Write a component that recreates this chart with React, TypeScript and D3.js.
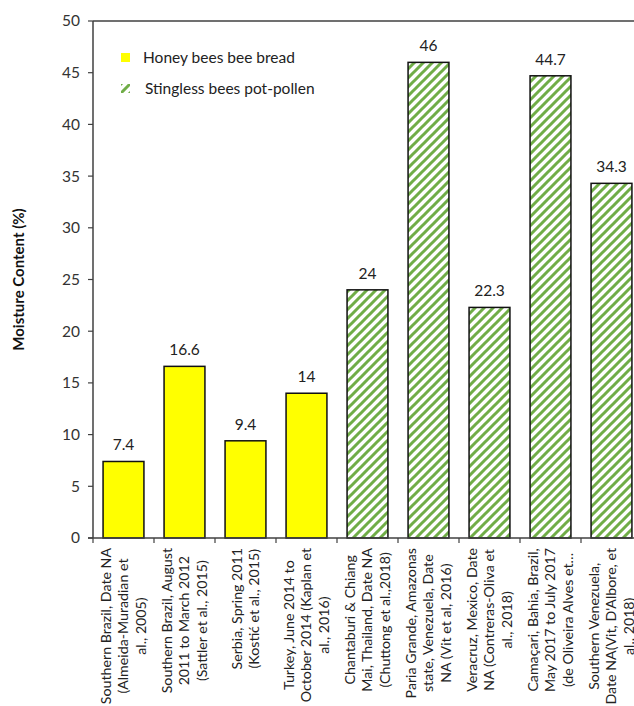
import React, { useLayoutEffect, useRef } from "react";
import * as d3 from "d3";

const categories: string[][] = [
  ["Southern Brazil, Date NA", "(Almeida-Muradian et", "al., 2005)"],
  ["Southern Brazil, August", "2011 to March 2012", "(Sattler et al., 2015)"],
  ["Serbia, Spring 2011", "(Kostić et al., 2015)"],
  ["Turkey, June 2014 to", "October 2014 (Kaplan et", "al., 2016)"],
  ["Chantaburi & Chiang", "Mai, Thailand, Date NA", "(Chuttong et al.,2018)"],
  ["Paria Grande, Amazonas", "state, Venezuela, Date", "NA (Vit et al, 2016)"],
  ["Veracruz, Mexico, Date", "NA (Contreras-Oliva et", "al., 2018)"],
  ["Camaçari, Bahia, Brazil,", "May 2017 to July 2017", "(de Oliveira Alves et…"],
  ["Southern Venezuela,", "Date NA(Vit, D'Albore, et", "al., 2018)"],
];
const values: number[] = [7.4, 16.6, 9.4, 14, 24, 46, 22.3, 44.7, 34.3];
const valueLabels: string[] = ["7.4", "16.6", "9.4", "14", "24", "46", "22.3", "44.7", "34.3"];
const groups: string[] = ["honey", "honey", "honey", "honey", "stingless", "stingless", "stingless", "stingless", "stingless"];
const legendLabels: string[] = ["Honey bees bee bread", "Stingless bees pot-pollen"];
const yTicks: number[] = [0, 5, 10, 15, 20, 25, 30, 35, 40, 45, 50];

const FONT = "Lato, 'Open Sans', sans-serif";
const LABEL_SIZE = 14.2;

export default function App() {
  const W = 634, H = 706;
  const x0 = 93, x1 = 642, yTop = 21, yBot = 538;
  const x = d3.scaleBand<number>().domain(values.map((_, i) => i)).range([x0, x1]).padding(0);
  const y = d3.scaleLinear().domain([0, 50]).range([yBot, yTop]);
  const bw = x.bandwidth() * 0.67;
  const green = "#70AD47";
  const axisColor = "#404040";
  const labelRefs = useRef<(SVGGElement | null)[]>([]);

  useLayoutEffect(() => {
    labelRefs.current.forEach((g, i) => {
      if (!g) return;
      const texts = Array.from(g.querySelectorAll("text")) as SVGTextElement[];
      const maxLen = d3.max(texts, (t) => t.getComputedTextLength()) || 0;
      const cx = (x(i) as number) + x.bandwidth() / 2;
      g.setAttribute("transform", `translate(${cx},${548 + maxLen / 2}) rotate(-90)`);
    });
  });

  return (
    <div style={{ position: "fixed", left: 0, top: 0, width: W, height: H, background: "#fff" }}>
      <svg width={W} height={H} style={{ display: "block", fontFamily: FONT }}>
        <defs>
          <pattern id="hatch" patternUnits="userSpaceOnUse" width={9} height={9}>
            <rect width={9} height={9} fill="#fff" />
            <path d="M-1,10 L10,-1 M-3,3 L3,-3 M6,12 L12,6" stroke={green} strokeWidth={3} />
          </pattern>
          <pattern id="hatchLegend" patternUnits="userSpaceOnUse" width={9} height={9} x={121} y={84}>
            <rect width={9} height={9} fill="#fff" />
            <path d="M-1,10 L10,-1 M-3,3 L3,-3 M6,12 L12,6" stroke={green} strokeWidth={3} />
          </pattern>
        </defs>

        {/* bars */}
        {values.map((v, i) => {
          const cx = (x(i) as number) + x.bandwidth() / 2;
          return (
            <g key={i}>
              <rect
                x={cx - bw / 2}
                y={y(v)}
                width={bw}
                height={yBot - y(v)}
                fill={groups[i] === "honey" ? "#FFFF00" : "url(#hatch)"}
                stroke="#111"
                strokeWidth={1.5}
              />
              <text x={cx} y={y(v) - 11} textAnchor="middle" fontSize={15.5} fill="#222">
                {valueLabels[i]}
              </text>
            </g>
          );
        })}

        {/* axes */}
        <line x1={x0} x2={W} y1={yTop} y2={yTop} stroke={axisColor} strokeWidth={1.5} />
        <line x1={x0} x2={x0} y1={yTop} y2={yBot} stroke={axisColor} strokeWidth={1.5} />
        <line x1={x0 - 5} x2={W} y1={yBot} y2={yBot} stroke={axisColor} strokeWidth={1.5} />
        {yTicks.map((t) => (
          <g key={t}>
            <line x1={x0 - 5} x2={x0} y1={y(t)} y2={y(t)} stroke={axisColor} strokeWidth={1.2} />
            <text x={80} y={y(t)} dy="0.35em" textAnchor="end" fontSize={15.5} fill="#333">
              {t}
            </text>
          </g>
        ))}
        {d3.range(values.length + 1).map((i) => {
          const xx = i < values.length ? (x(i) as number) : x1;
          return <line key={i} x1={xx} x2={xx} y1={yBot} y2={yBot + 5} stroke={axisColor} strokeWidth={1.2} />;
        })}

        {/* x labels */}
        {categories.map((lines, i) => {
          const cx = (x(i) as number) + x.bandwidth() / 2;
          const n = lines.length;
          const lh = 17.5;
          return (
            <g
              key={i}
              ref={(el) => { labelRefs.current[i] = el; }}
              transform={`translate(${cx},624) rotate(-90)`}
            >
              {lines.map((l, j) => (
                <text
                  key={j}
                  x={0}
                  y={(j - (n - 1) / 2) * lh}
                  dy="0.35em"
                  textAnchor="middle"
                  fontSize={LABEL_SIZE}
                  fill="#222"
                >
                  {l}
                </text>
              ))}
            </g>
          );
        })}

        {/* y axis title */}
        <text
          transform={`translate(19,${(yTop + yBot) / 2}) rotate(-90)`}
          textAnchor="middle"
          dy="0.35em"
          fontSize={15}
          fontWeight="bold"
          fill="#111"
        >
          Moisture Content (%)
        </text>

        {/* legend */}
        <rect x={121} y={53} width={9} height={9} fill="#FFFF00" />
        <text x={143} y={57.5} dy="0.35em" fontSize={15.5} fill="#222">{legendLabels[0]}</text>
        <rect x={121} y={84} width={9} height={9} fill="url(#hatchLegend)" />
        <text x={145} y={88.5} dy="0.35em" fontSize={15.5} fill="#222">{legendLabels[1]}</text>
      </svg>
    </div>
  );
}
